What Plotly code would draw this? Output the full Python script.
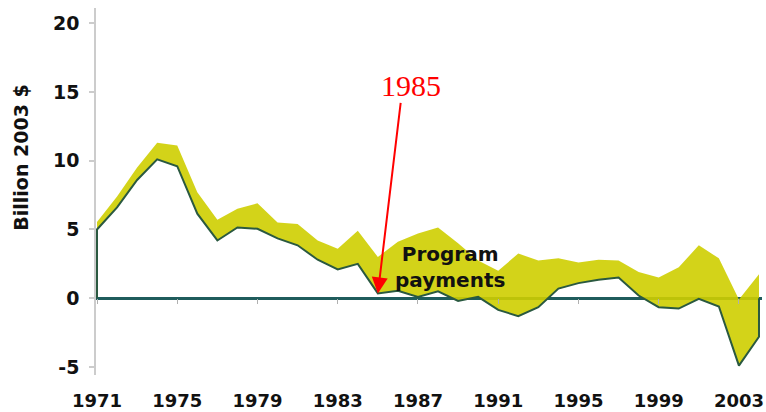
import plotly.graph_objects as go

years = list(range(1971, 2005))
lower = [5.0, 6.6, 8.6, 10.1, 9.6, 6.15, 4.2, 5.15, 5.05, 4.35, 3.85, 2.8, 2.1, 2.5, 0.35, 0.55, 0.1, 0.5,
         -0.2, 0.1, -0.85, -1.3, -0.65, 0.7, 1.1, 1.35, 1.5, 0.2, -0.65, -0.75, -0.05, -0.6, -4.9, -2.8]
upper = [5.55, 7.4, 9.5, 11.3, 11.1, 7.7, 5.7, 6.5, 6.9, 5.5, 5.4, 4.2, 3.6, 4.9, 3.0, 4.1, 4.7, 5.15,
         4.0, 2.75, 2.0, 3.25, 2.75, 2.9, 2.6, 2.8, 2.75, 1.9, 1.5, 2.25, 3.85, 2.9, -0.1, 1.75]
x_ticks = [1971, 1975, 1979, 1983, 1987, 1991, 1995, 1999, 2003]
y_ticks = [-5, 0, 5, 10, 15, 20]
y_ticktext = ["-5", "0", "5", "10", "15", "20"]
y_title = "Billion 2003 $"
band_label = "Program<br>payments"
event_year = 1985

Y_MIN, Y_MAX = -5.58, 21.1
FONT = "DejaVu Sans, Verdana, sans-serif"

fig = go.Figure()
# invisible base for the band
fig.add_trace(go.Scatter(x=years, y=lower, mode="lines", line=dict(width=0),
                         hoverinfo="skip", showlegend=False))
# program payments band
fig.add_trace(go.Scatter(x=years, y=upper, mode="lines", line=dict(width=0),
                         fill="tonexty", fillcolor="rgba(206,206,0,0.9)",
                         hoverinfo="skip", showlegend=False))
# lower outline closed to zero at the ends
outline_x = [years[0]] + years + [years[-1]]
outline_y = [0] + lower + [0]
fig.add_trace(go.Scatter(x=outline_x, y=outline_y, mode="lines",
                         line=dict(color="#2a5940", width=2),
                         hoverinfo="skip", showlegend=False))
# helper trace for the zero-line tick axis
fig.add_trace(go.Scatter(x=x_ticks, y=[0] * len(x_ticks), xaxis="x2", mode="markers",
                         marker=dict(opacity=0), hoverinfo="skip", showlegend=False))

fig.add_annotation(x=event_year, y=lower[years.index(event_year)], xref="x", yref="y",
                   ax=23, ay=-192, showarrow=True, arrowhead=2, arrowsize=1.6,
                   arrowwidth=2, arrowcolor="#ff0000", text="")
fig.add_annotation(x=event_year + 1.65, y=15.5, xref="x", yref="y", showarrow=False,
                   text=str(event_year),
                   font=dict(family="Liberation Serif, Times New Roman, serif", size=30, color="#ff0000"))
fig.add_annotation(x=1988.6, y=2.3, xref="x", yref="y", showarrow=False, text=band_label,
                   font=dict(family=FONT, size=20, color="#111111", weight="bold"))
fig.add_annotation(x=-0.113, y=10.2, xref="paper", yref="y", showarrow=False, text=y_title,
                   textangle=-90, xanchor="center", yanchor="middle",
                   font=dict(family=FONT, size=19, color="#111111", weight="bold"))

fig.update_layout(
    width=766, height=412,
    margin=dict(l=96, r=4, t=8, b=37, autoexpand=False),
    paper_bgcolor="white", plot_bgcolor="white",
    showlegend=False,
    xaxis=dict(range=[1970.95, 2004.15], tickvals=x_ticks, ticktext=[str(t) for t in x_ticks],
               showgrid=False, zeroline=False, showline=False, ticks="", automargin=False,
               ticklabelstandoff=13,
               tickfont=dict(family=FONT, size=18, color="#111111", weight="bold")),
    xaxis2=dict(range=[1970.95, 2004.15], overlaying="x", anchor="free",
                position=(0 - Y_MIN) / (Y_MAX - Y_MIN), side="bottom", automargin=False,
                tickvals=x_ticks, showticklabels=False, ticks="outside", ticklen=5,
                tickcolor="#b0b0b0", tickwidth=1, showgrid=False, zeroline=False, showline=False),
    yaxis=dict(range=[Y_MIN, Y_MAX], tickvals=y_ticks, ticktext=y_ticktext, showgrid=False,
               zeroline=True, zerolinecolor="#1f5c5c", zerolinewidth=2.5, automargin=False,
               showline=True, linecolor="#cccccc", linewidth=1.5,
               ticks="outside", ticklen=5, tickcolor="#cccccc", tickwidth=1.5,
               ticklabelstandoff=6,
               tickfont=dict(family=FONT, size=19, color="#111111", weight="bold")),
)

fig.write_html("out.html", config={"displayModeBar": False},
               post_script="document.body.style.margin='0';")
